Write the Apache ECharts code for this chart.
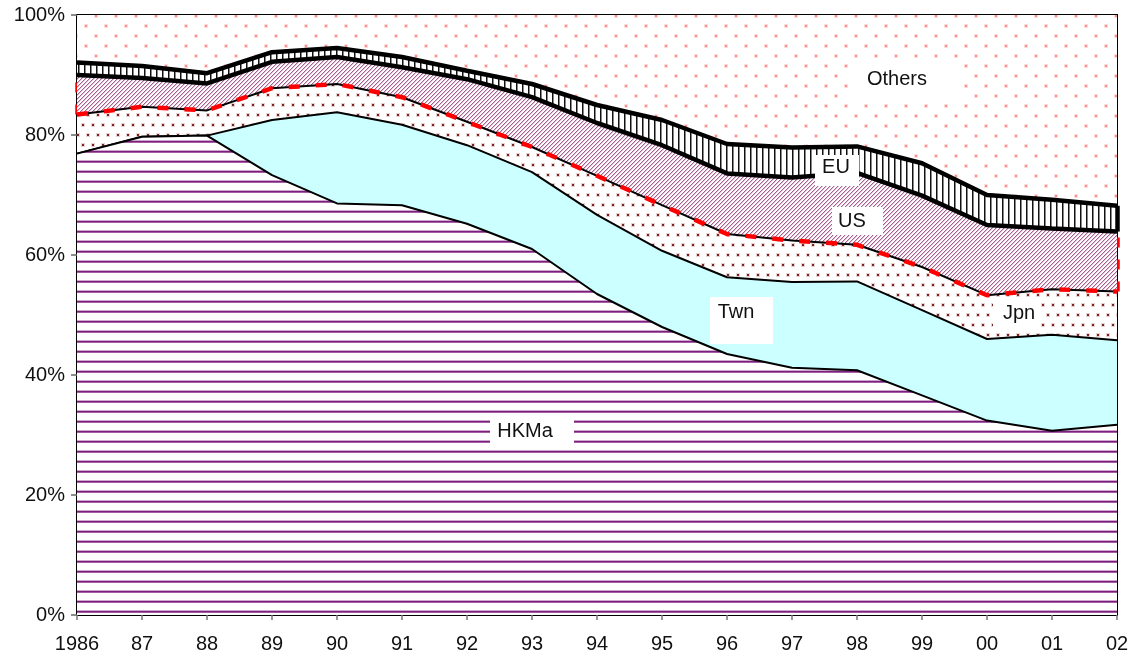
<!DOCTYPE html>
<html>
<head>
<meta charset="utf-8">
<script src="https://cdn.jsdelivr.net/npm/echarts@6/dist/echarts.min.js"></script>
<style>
  html, body { margin: 0; padding: 0; background: #fff; }
  #chart { width: 1136px; height: 662px; }
</style>
</head>
<body>
<div id="chart"></div>
<script>
// Shares of total (%), stacked from the bottom up
const years = ['1986', '87', '88', '89', '90', '91', '92', '93', '94', '95', '96', '97', '98', '99', '00', '01', '02'];
const hkma   = [76.9, 79.7, 79.9, 73.3, 68.6, 68.3, 65.2, 61.0, 53.5, 48.0, 43.5, 41.2, 40.8, 36.6, 32.4, 30.7, 31.7];
const twn    = [0, 0, 0, 9.2, 15.2, 13.4, 13.1, 12.8, 13.2, 12.7, 12.8, 14.3, 14.8, 14.2, 13.6, 16.0, 14.1];
const jpn    = [6.5, 5.0, 4.2, 5.3, 4.7, 4.6, 3.9, 4.2, 6.5, 7.6, 7.2, 6.9, 6.1, 7.2, 7.3, 7.6, 8.1];
const us     = [6.6, 4.8, 4.5, 4.4, 4.5, 5.0, 7.1, 8.3, 8.8, 10.0, 10.1, 10.5, 12.0, 11.9, 11.7, 10.1, 10.0];
const eu     = [2.1, 2.0, 1.7, 1.6, 1.5, 1.7, 1.4, 2.2, 3.0, 4.2, 4.9, 5.0, 4.4, 5.4, 5.0, 4.8, 4.3];
const others = [7.9, 8.5, 9.7, 6.2, 5.5, 7.0, 9.3, 11.5, 15.0, 17.5, 21.5, 22.1, 21.9, 24.7, 30.0, 30.8, 31.8];
const yTicks = [0, 20, 40, 60, 80, 100];

// running totals for the boundary overlays
function cumulative(...parts) {
  return years.map((_, i) => +parts.reduce((s, p) => s + p[i], 0).toFixed(2));
}
const jpnTop = cumulative(hkma, twn, jpn);
const usTop = cumulative(hkma, twn, jpn, us);
const euTop = cumulative(hkma, twn, jpn, us, eu);

// ---- fill patterns ----
function tile(w, h, draw) {
  const c = document.createElement('canvas');
  c.width = w; c.height = h;
  const g = c.getContext('2d');
  g.fillStyle = '#fff';
  g.fillRect(0, 0, w, h);
  draw(g);
  return { image: c, repeat: 'repeat' };
}
function dot(g, x, y, core, halo) {
  g.fillStyle = halo; g.fillRect(x - 1, y - 1, 4, 4);
  g.fillStyle = core; g.fillRect(x, y, 2, 2);
}
const hStripes = tile(10, 10, g => {
  g.fillStyle = '#cfa8cf'; g.fillRect(0, 0, 10, 1);
  g.fillStyle = '#7d1f7d'; g.fillRect(0, 1, 10, 1);
  g.fillStyle = '#a35ea3'; g.fillRect(0, 2, 10, 1);
});
const darkDots = tile(10, 20, g => {
  dot(g, 2, 4, '#7a2424', 'rgba(190,130,130,0.35)');
  dot(g, 7, 14, '#7a2424', 'rgba(190,130,130,0.35)');
});
const diagStripes = tile(4, 4, g => {
  for (let x = 0; x < 4; x++) for (let y = 0; y < 4; y++) {
    const k = (x + y) % 4;
    if (k === 3) { g.fillStyle = '#a5608f'; g.fillRect(x, y, 1, 1); }
    else if (k === 0) { g.fillStyle = '#e2c2d8'; g.fillRect(x, y, 1, 1); }
  }
});
const vLines = tile(6, 6, g => {
  g.fillStyle = '#111'; g.fillRect(0, 0, 1, 6);
  g.fillStyle = '#888'; g.fillRect(1, 0, 1, 6);
});
const pinkDots = tile(20, 20, g => {
  dot(g, 5, 5, '#ff8a8a', 'rgba(255,190,190,0.5)');
  dot(g, 15, 15, '#ff8a8a', 'rgba(255,190,190,0.5)');
});

function area(name, data, fill, line, z) {
  return {
    name, type: 'line', stack: 'share', data, z,
    symbol: 'none', silent: true,
    areaStyle: { color: fill, opacity: 1 },
    lineStyle: line
  };
}

const FONT = '"Liberation Sans", Arial, sans-serif';
const chart = echarts.init(document.getElementById('chart'), null, { renderer: 'canvas' });

// white boxed series names
function tag(text, bx, by, bw, bh, tx, ty) {
  return [
    { type: 'rect', z: 100, silent: true, shape: { x: bx, y: by, width: bw, height: bh }, style: { fill: '#fff' } },
    { type: 'text', z: 101, silent: true, x: tx, y: ty,
      style: { text, fill: '#111', font: '20px ' + FONT, textAlign: 'center', textVerticalAlign: 'middle' } }
  ];
}

chart.setOption({
  animation: false,
  backgroundColor: '#fff',
  grid: { left: 77, right: 19, top: 15, bottom: 47, show: true, borderColor: '#000', borderWidth: 2, backgroundColor: 'transparent' },
  xAxis: {
    type: 'category', data: years, boundaryGap: false,
    axisLine: { lineStyle: { color: '#000', width: 2 } },
    axisTick: { show: true, length: 5, lineStyle: { color: '#777', width: 1.5 } },
    axisLabel: { color: '#111', fontSize: 20, fontFamily: FONT, margin: 19 },
    splitLine: { show: false }
  },
  yAxis: {
    type: 'value', min: yTicks[0], max: yTicks[yTicks.length - 1], interval: yTicks[1] - yTicks[0],
    axisLine: { show: true, lineStyle: { color: '#000', width: 2 } },
    axisTick: { show: true, length: 6, lineStyle: { color: '#666', width: 1.5 } },
    axisLabel: { color: '#111', fontSize: 20, fontFamily: FONT, margin: 12, formatter: '{value}%' },
    splitLine: { show: false }
  },
  series: [
    area('HKMa', hkma, hStripes, { color: '#000', width: 2 }, 8),
    area('Twn', twn, '#ccffff', { color: '#000', width: 2 }, 7),
    area('Jpn', jpn, darkDots, { color: '#000', width: 2 }, 6),
    area('US', us, diagStripes, { color: '#000', width: 4.5 }, 5),
    area('EU', eu, vLines, { color: '#000', width: 4.5 }, 4),
    area('Others', others, pinkDots, { width: 0, opacity: 0 }, 3),
    {
      // red dashed outline of the US band
      name: 'US edge', type: 'line', data: jpnTop, z: 9,
      symbol: 'none', silent: true,
      lineStyle: { color: '#ff0000', width: 4.5, type: [11, 16] },
      markLine: {
        silent: true, symbol: 'none', label: { show: false },
        lineStyle: { color: '#ff0000', width: 4.5, type: [10, 12] },
        data: [
          [{ coord: [0, jpnTop[0]] }, { coord: [0, usTop[0]] }],
          [{ coord: [years.length - 1, jpnTop[years.length - 1]] }, { coord: [years.length - 1, usTop[years.length - 1]] }],
          [{ coord: [years.length - 1, usTop[years.length - 1]], lineStyle: { color: '#000', width: 4.5, type: 'solid' } },
           { coord: [years.length - 1, euTop[years.length - 1]] }]
        ]
      }
    }
  ],
  graphic: {
    elements: [].concat(
      tag('Others', 853, 61, 110, 37, 897, 79),
      tag('EU', 815, 155, 44, 31, 836, 167),
      tag('US', 832, 207, 51, 28, 852, 221),
      tag('Jpn', 993, 297, 47, 33, 1019, 313),
      tag('Twn', 710, 297, 63, 47, 736, 312),
      tag('HKMa', 490, 420, 84, 26, 525, 431)
    )
  }
});
</script>
</body>
</html>
